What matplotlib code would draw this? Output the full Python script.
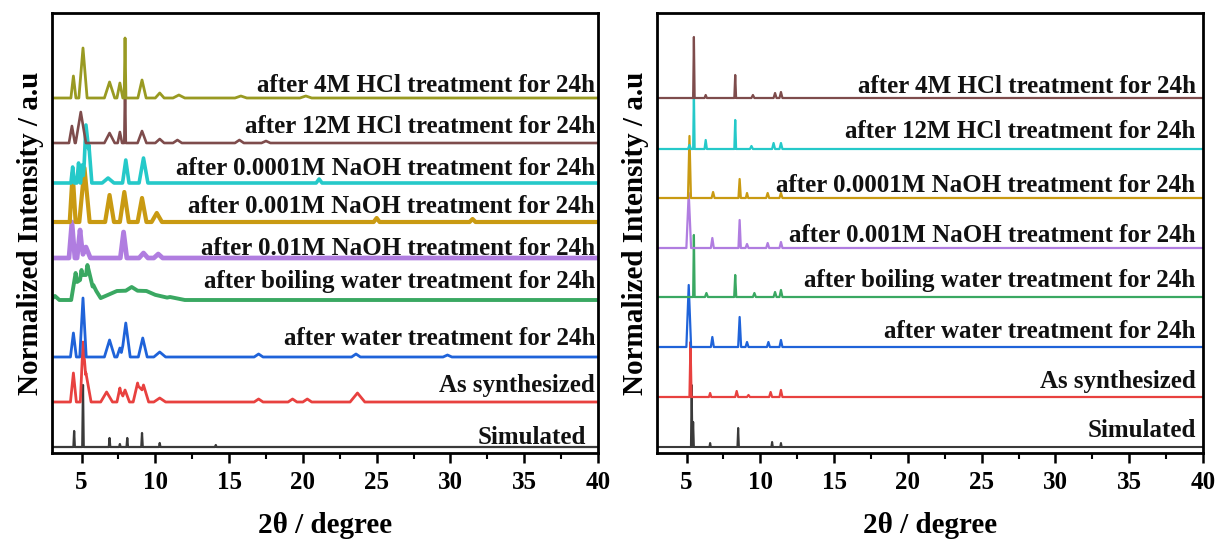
import matplotlib
matplotlib.use("Agg")
import matplotlib.pyplot as plt
from matplotlib.ticker import MultipleLocator

plt.rcParams['font.family'] = ['Liberation Serif', 'DejaVu Serif']
plt.rcParams['font.weight'] = 'bold'

# ---------------- data (peak position, height above baseline, half width) ----------------
# Left panel
L_sim_pos = [4.5, 5.1, 6.9, 7.6, 8.1, 9.1, 10.3, 14.1]
L_sim_h   = [16, 62, 9, 3, 9, 14, 4, 2]
L_sim_w   = [0.05, 0.05, 0.05, 0.05, 0.05, 0.05, 0.05, 0.05]

L_red_pos = [4.45, 5.1, 5.3, 6.7, 7.6, 7.95, 8.8, 9.2, 10.3, 17.0, 19.3, 20.3, 23.7]
L_red_h   = [29, 60, 29, 10, 14, 12, 19, 17, 4, 3, 3, 3, 9]
L_red_w   = [0.2, 0.18, 0.35, 0.4, 0.2, 0.3, 0.3, 0.35, 0.4, 0.3, 0.3, 0.3, 0.5]

L_blue_pos = [4.45, 5.1, 6.9, 7.6, 8.0, 9.15, 10.3, 17.0, 23.6, 29.8]
L_blue_h   = [24, 59, 17, 9, 34, 19, 5, 3, 3, 2]
L_blue_w   = [0.2, 0.22, 0.35, 0.2, 0.3, 0.3, 0.4, 0.3, 0.3, 0.3]

L_green_pos = [3.2, 4.6, 5.0, 5.4, 5.8, 7.4, 8.4, 9.4, 11.0]
L_green_h   = [4, 27, 30, 35, 15, 9, 13, 9, 3]
L_green_w   = [0.3, 0.3, 0.3, 0.35, 0.5, 1.4, 1.4, 1.4, 1.0]

L_purple_pos = [4.35, 4.9, 5.3, 7.85, 9.2, 10.2]
L_purple_h   = [36, 28, 11, 26, 5, 4]
L_purple_w   = [0.2, 0.2, 0.3, 0.22, 0.3, 0.3]

L_gold_pos = [4.4, 5.2, 6.9, 7.9, 9.1, 10.1, 25.0, 31.5]
L_gold_h   = [49, 54, 27, 30, 24, 9, 4, 3]
L_gold_w   = [0.2, 0.35, 0.3, 0.3, 0.3, 0.35, 0.2, 0.2]

L_cyan_pos = [4.4, 4.8, 5.05, 5.3, 5.5, 6.8, 8.0, 9.2, 21.1]
L_cyan_h   = [16, 20, 18, 58, 38, 5, 23, 25, 4]
L_cyan_w   = [0.12, 0.12, 0.12, 0.18, 0.2, 0.4, 0.22, 0.3, 0.2]

L_brown_pos = [4.35, 4.95, 6.9, 7.6, 7.95, 9.1, 10.3, 11.5, 15.7, 17.5]
L_brown_h   = [17, 31, 10, 11, 58, 12, 4, 3, 3, 2]
L_brown_w   = [0.2, 0.35, 0.35, 0.15, 0.05, 0.3, 0.3, 0.3, 0.3, 0.3]

L_olive_pos = [4.45, 5.1, 6.9, 7.6, 7.95, 9.1, 10.3, 11.6, 15.8, 20.2]
L_olive_h   = [22, 50, 16, 15, 60, 18, 5, 3, 2, 2]
L_olive_w   = [0.17, 0.28, 0.35, 0.2, 0.06, 0.28, 0.3, 0.4, 0.4, 0.4]

# Right panel
R_sim_pos = [5.35, 5.45, 6.6, 8.5, 10.8, 11.4]
R_sim_h   = [62, 25, 4, 19, 5, 4]
R_sim_w   = [0.05, 0.05, 0.05, 0.05, 0.05, 0.05]

R_red_pos = [5.27, 6.6, 8.4, 9.2, 10.7, 11.4]
R_red_h   = [55, 4, 6, 2, 5, 7]
R_red_w   = [0.07, 0.08, 0.1, 0.1, 0.1, 0.1]

R_blue_pos = [5.15, 6.75, 8.6, 9.1, 10.55, 11.4]
R_blue_h   = [62, 10, 30, 5, 5, 7]
R_blue_w   = [0.16, 0.1, 0.1, 0.1, 0.1, 0.1]

R_green_pos = [5.5, 6.35, 8.3, 9.6, 11.0, 11.4]
R_green_h   = [62, 4, 22, 4, 5, 7]
R_green_w   = [0.05, 0.1, 0.07, 0.1, 0.1, 0.1]

R_purple_pos = [5.15, 6.75, 8.6, 9.1, 10.5, 11.4]
R_purple_h   = [55, 10, 28, 4, 5, 6]
R_purple_w   = [0.16, 0.1, 0.08, 0.1, 0.1, 0.1]

R_gold_pos = [5.2, 6.8, 8.6, 9.1, 10.5, 11.4]
R_gold_h   = [62, 6, 19, 5, 5, 5]
R_gold_w   = [0.1, 0.1, 0.08, 0.08, 0.1, 0.1]

R_cyan_pos = [5.2, 5.5, 6.3, 8.3, 9.4, 10.9, 11.4]
R_cyan_h   = [4, 57, 9, 29, 3, 6, 6]
R_cyan_w   = [0.1, 0.05, 0.08, 0.06, 0.1, 0.1, 0.1]

R_brown_pos = [5.5, 6.3, 8.3, 9.5, 11.0, 11.4]
R_brown_h   = [61, 3, 23, 3, 5, 6]
R_brown_w   = [0.05, 0.08, 0.06, 0.1, 0.1, 0.1]

# labels
L_labels = ["Simulated", "As synthesized", "after water treatment for 24h",
            "after boiling water treatment for 24h", "after 0.01M NaOH treatment for 24h",
            "after 0.001M NaOH treatment for 24h", "after 0.0001M NaOH treatment for 24h",
            "after 12M HCl treatment for 24h", "after 4M HCl treatment for 24h"]
R_labels = ["Simulated", "As synthesized", "after water treatment for 24h",
            "after boiling water treatment for 24h",
            "after 0.001M NaOH treatment for 24h", "after 0.0001M NaOH treatment for 24h",
            "after 12M HCl treatment for 24h", "after 4M HCl treatment for 24h"]

# ---------------- layout / style ----------------
C = dict(sim='#3a3a3a', red='#e8413f', blue='#1f63d9', green='#3aa862', purple='#b07de0',
         gold='#c99a12', cyan='#25c9c9', brown='#7e4c4c', olive='#999a22')

L_series = [
    (L_sim_pos, L_sim_h, L_sim_w, 6, C['sim'], 1.6),
    (L_red_pos, L_red_h, L_red_w, 51, C['red'], 2.0),
    (L_blue_pos, L_blue_h, L_blue_w, 96, C['blue'], 2.0),
    (L_green_pos, L_green_h, L_green_w, 153, C['green'], 2.8),
    (L_purple_pos, L_purple_h, L_purple_w, 195, C['purple'], 3.4),
    (L_gold_pos, L_gold_h, L_gold_w, 231, C['gold'], 3.0),
    (L_cyan_pos, L_cyan_h, L_cyan_w, 270, C['cyan'], 2.6),
    (L_brown_pos, L_brown_h, L_brown_w, 310, C['brown'], 1.9),
    (L_olive_pos, L_olive_h, L_olive_w, 355, C['olive'], 2.0),
]
L_text_y = [9, 61, 108, 165, 198, 240, 278, 320, 361]
L_text_x = [39.2, 39.8, 39.8, 39.8, 39.8, 39.8, 39.8, 39.8, 39.8]

R_series = [
    (R_sim_pos, R_sim_h, R_sim_w, 6, C['sim'], 1.5),
    (R_red_pos, R_red_h, R_red_w, 56, C['red'], 1.6),
    (R_blue_pos, R_blue_h, R_blue_w, 106, C['blue'], 1.6),
    (R_green_pos, R_green_h, R_green_w, 156, C['green'], 1.6),
    (R_purple_pos, R_purple_h, R_purple_w, 205, C['purple'], 1.6),
    (R_gold_pos, R_gold_h, R_gold_w, 255, C['gold'], 1.6),
    (R_cyan_pos, R_cyan_h, R_cyan_w, 304, C['cyan'], 1.6),
    (R_brown_pos, R_brown_h, R_brown_w, 355, C['brown'], 1.6),
]
R_text_y = [16, 65, 115, 166, 211, 261, 315, 360]
R_text_x = [39.5] * 8


def trace(pos, hgt, wid, xmin=3.0, xmax=40.0):
    xs = {xmin, xmax}
    for p, w in zip(pos, wid):
        xs.update([p - w, p, p + w])
    xs = sorted(xs)
    ys = []
    for x in xs:
        v = 0.0
        for p, h, w in zip(pos, hgt, wid):
            d = abs(x - p)
            if d < w:
                v = max(v, h * (1 - d / w))
        ys.append(v)
    return xs, ys


fig = plt.figure(figsize=(12.18, 5.44), dpi=100)
axL = fig.add_axes([52 / 1218, 91 / 544, 546 / 1218, 440 / 544])
axR = fig.add_axes([657 / 1218, 91 / 544, 546 / 1218, 440 / 544])

for ax, series, labels, tys, txs in [(axL, L_series, L_labels, L_text_y, L_text_x),
                                     (axR, R_series, R_labels, R_text_y, R_text_x)]:
    for (pos, h, w, off, col, lw) in series:
        xs, ys = trace(pos, h, w)
        ax.plot(xs, [y + off for y in ys], color=col, lw=lw, solid_joinstyle='round')
    for lab, ty, tx in zip(labels, tys, txs):
        ax.text(tx, ty, lab, ha='right', va='baseline', fontsize=18, fontweight='bold',
                color='#111111')
    ax.set_xlim(3, 40)
    ax.set_ylim(0, 440)
    ax.set_yticks([])
    ax.xaxis.set_major_locator(MultipleLocator(5))
    ax.xaxis.set_minor_locator(MultipleLocator(2.5))
    ax.tick_params(axis='x', which='major', direction='out', length=7, width=1.8,
                   labelsize=18, pad=6)
    ax.tick_params(axis='x', which='minor', direction='out', length=4, width=1.5)
    for lab in ax.get_xticklabels():
        lab.set_fontweight('bold')
    for sp in ax.spines.values():
        sp.set_linewidth(2.0)
    ax.set_xlabel('2θ / degree', fontsize=21, fontweight='bold', labelpad=13)
    ax.set_ylabel('Normalized Intensity / a.u', fontsize=21, fontweight='bold', labelpad=6)

fig.savefig('out.png', dpi=100)
